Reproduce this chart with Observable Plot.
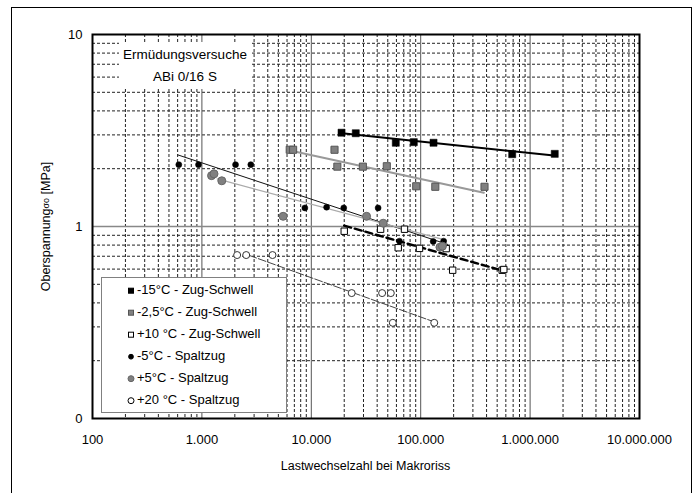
<!DOCTYPE html>
<html>
<head>
<meta charset="utf-8">
<script src="https://cdn.jsdelivr.net/npm/d3@7"></script>
<script src="https://cdn.jsdelivr.net/npm/@observablehq/plot@0.6"></script>
<style>
  body { margin: 0; background: #fff; }
  svg { display: block; }
</style>
</head>
<body>
<div id="chart"></div>
<script>
const FONT = "'Liberation Sans', Arial, Helvetica, sans-serif";

// Axis ticks
const xTicks = [100, 1000, 10000, 100000, 1000000, 10000000];
const yTicks = [0.1, 1, 10];

// Legend labels
const seriesLabels = [
  "-15°C - Zug-Schwell",
  "-2,5°C - Zug-Schwell",
  "+10 °C - Zug-Schwell",
  "-5°C - Spaltzug",
  "+5°C - Spaltzug",
  "+20 °C - Spaltzug"
];

// -15 °C, Zug-Schwell
const cyclesZS15 = [18900, 25500, 59200, 86500, 131000, 686000, 1680000];
const stressZS15 = [3.08, 3.06, 2.73, 2.75, 2.73, 2.38, 2.39];
const fitCyclesZS15 = [19100, 1650000];
const fitStressZS15 = [3.06, 2.34];

// -2,5 °C, Zug-Schwell
const cyclesZS25 = [6350, 6820, 16300, 17300, 29600, 49000, 91000, 136000, 383000];
const stressZS25 = [2.51, 2.51, 2.51, 2.05, 2.05, 2.06, 1.62, 1.61, 1.61];
const fitCyclesZS25 = [6550, 378000];
const fitStressZS25 = [2.48, 1.50];

// +10 °C, Zug-Schwell
const cyclesZS10 = [20000, 43000, 71100, 62300, 97500, 171000, 196000, 556000, 575000];
const stressZS10 = [0.945, 0.968, 0.968, 0.775, 0.769, 0.767, 0.592, 0.592, 0.597];
const fitCyclesZS10 = [20000, 575000];
const fitStressZS10 = [1.01, 0.587];

// -5 °C, Spaltzug
const cyclesSZ5m = [615, 931, 2030, 2800, 8730, 13800, 19800, 40800, 63900, 130000, 162000];
const stressSZ5m = [2.10, 2.10, 2.10, 2.10, 1.25, 1.26, 1.25, 1.25, 0.839, 0.836, 0.839];
const fitCyclesSZ5m = [603, 176000];
const fitStressSZ5m = [2.36, 0.807];

// +5 °C, Spaltzug
const cyclesSZ5p = [1225, 1290, 1520, 5530, 32000, 45400, 150000, 158000];
const stressSZ5p = [1.84, 1.88, 1.73, 1.13, 1.13, 1.04, 0.78, 0.79];
const fitCyclesSZ5p = [1380, 172000];
const fitStressSZ5p = [1.77, 0.846];

// +20 °C, Spaltzug
const cyclesSZ20 = [2100, 2540, 4420, 23400, 44400, 53300, 55600, 133000];
const stressSZ20 = [0.710, 0.710, 0.710, 0.450, 0.450, 0.450, 0.315, 0.315];
const fitCyclesSZ20 = [2690, 132000];
const fitStressSZ20 = [0.708, 0.319];

const rows = (N, S) => N.map((n, i) => ({n, s: S[i]}));

const de = d3.formatLocale({decimal: ",", thousands: ".", grouping: [3], currency: ["", " €"]});
const fmtX = de.format(",");

// minor grid positions (2..9 per decade)
const isDecade = v => Math.abs(Math.log10(v) - Math.round(Math.log10(v))) < 1e-9;
const xMinor = d3.scaleLog().domain([100, 1e7]).ticks().filter(v => !isDecade(v));
const yMinor = d3.scaleLog().domain([0.1, 10]).ticks().filter(v => !isDecade(v));
const xMajor = xTicks.slice(1, -1);
const yMajor = yTicks.slice(1, -1);

const legendStyles = [
  {shape: "square", fill: "#000", stroke: "#000", size: 5},
  {shape: "square", fill: "#808080", stroke: "#555", size: 5},
  {shape: "square", fill: "#fff", stroke: "#000", size: 5},
  {shape: "circle", fill: "#000", stroke: "#000", size: 2.4},
  {shape: "circle", fill: "#808080", stroke: "#666", size: 3},
  {shape: "circle", fill: "#fff", stroke: "#000", size: 3}
];

function decorations() {
  const g = d3.create("svg:g").attr("font-family", FONT).attr("fill", "#000").attr("text-anchor", "start");

  // outer border of the figure
  g.append("rect").attr("x", 11.5).attr("y", 7.5).attr("width", 680).attr("height", 500)
    .attr("fill", "none").attr("stroke", "#000").attr("stroke-width", 1);

  // title box
  g.append("rect").attr("x", 119).attr("y", 42).attr("width", 133).attr("height", 47).attr("fill", "#fff");
  g.append("text").attr("x", 185).attr("y", 55).attr("text-anchor", "middle").attr("dominant-baseline", "middle")
    .attr("font-size", 13.5).text("Ermüdungsversuche");
  g.append("text").attr("x", 185).attr("y", 77).attr("text-anchor", "middle").attr("dominant-baseline", "middle")
    .attr("font-size", 13.5).text("ABi 0/16 S");

  // legend
  g.append("rect").attr("x", 101.5).attr("y", 277.5).attr("width", 185).attr("height", 135)
    .attr("fill", "#fff").attr("stroke", "#808080");
  seriesLabels.forEach((label, i) => {
    const cy = 290.7 + i * 22;
    const st = legendStyles[i];
    if (st.shape === "square") {
      g.append("rect").attr("x", 131 - st.size / 2).attr("y", cy - st.size / 2)
        .attr("width", st.size).attr("height", st.size)
        .attr("fill", st.fill).attr("stroke", st.stroke).attr("stroke-width", 1);
    } else {
      g.append("circle").attr("cx", 131).attr("cy", cy).attr("r", st.size)
        .attr("fill", st.fill).attr("stroke", st.stroke).attr("stroke-width", 1);
    }
    g.append("text").attr("x", 137).attr("y", cy).attr("text-anchor", "start").attr("dominant-baseline", "middle")
      .attr("font-size", 13).text(label);
  });

  // axis titles
  const yt = g.append("text").attr("transform", "translate(47,226.5) rotate(-90)")
    .attr("text-anchor", "middle").attr("dominant-baseline", "middle").attr("font-size", 12.5);
  yt.append("tspan").text("Oberspannung");
  yt.append("tspan").attr("font-size", 9).text("σo");
  yt.append("tspan").text(" [MPa]");

  g.append("text").attr("x", 365.5).attr("y", 467).attr("text-anchor", "middle")
    .attr("dominant-baseline", "middle").attr("font-size", 12.5).text("Lastwechselzahl bei Makroriss");

  return g.node();
}

const lineStyle = (stroke, strokeWidth, dash) => ({x: "n", y: "s", stroke, strokeWidth, strokeDasharray: dash});

const chart = Plot.plot({
  width: 694,
  height: 493,
  marginLeft: 92,
  marginRight: 55,
  marginTop: 34,
  marginBottom: 75,
  style: {fontFamily: FONT, fontSize: "13px", background: "#fff", color: "#000"},
  x: {type: "log", domain: [100, 1e7], axis: null},
  y: {type: "log", domain: [0.1, 10], axis: null},
  marks: [
    // grid
    Plot.ruleX(xMinor, {stroke: "#222", strokeWidth: 1, strokeDasharray: "3,2"}),
    Plot.ruleY(yMinor, {stroke: "#222", strokeWidth: 1, strokeDasharray: "3,2"}),
    Plot.ruleX(xMajor, {stroke: "#555", strokeWidth: 1}),
    Plot.ruleY(yMajor, {stroke: "#888", strokeWidth: 1.6}),

    // axes
    Plot.axisX({ticks: xTicks, tickFormat: fmtX, tickSize: 0, tickPadding: 16, label: null, fontSize: 13}),
    Plot.axisY({ticks: yTicks, tickFormat: d => d < 1 ? "0" : String(d), tickSize: 0, tickPadding: 10, label: null, fontSize: 13}),

    // fitted lines
    Plot.line(rows(fitCyclesZS15, fitStressZS15), lineStyle("#000", 2)),
    Plot.line(rows(fitCyclesZS25, fitStressZS25), lineStyle("#999", 2)),
    Plot.line(rows(fitCyclesSZ5m, fitStressSZ5m), lineStyle("#111", 1)),
    Plot.line(rows(fitCyclesSZ5p, fitStressSZ5p), lineStyle("#aaa", 1.2)),
    Plot.line(rows(fitCyclesZS10, fitStressZS10), lineStyle("#000", 2.5, "7,4")),
    Plot.line(rows(fitCyclesSZ20, fitStressSZ20), lineStyle("#444", 1, "8,2")),

    // measurements
    Plot.dot(rows(cyclesZS15, stressZS15), {x: "n", y: "s", symbol: "square", r: 4, fill: "#000", stroke: "#000", strokeWidth: 0.5}),
    Plot.dot(rows(cyclesZS25, stressZS25), {x: "n", y: "s", symbol: "square", r: 4, fill: "#808080", stroke: "#555", strokeWidth: 1}),
    Plot.dot(rows(cyclesZS10, stressZS10), {x: "n", y: "s", symbol: "square", r: 3.6, fill: "#fff", stroke: "#000", strokeWidth: 1}),
    Plot.dot(rows(cyclesSZ5m, stressSZ5m), {x: "n", y: "s", r: 3, fill: "#000", stroke: "#000", strokeWidth: 0.5}),
    Plot.dot(rows(cyclesSZ5p, stressSZ5p), {x: "n", y: "s", r: 4, fill: "#808080", stroke: "#666", strokeWidth: 1}),
    Plot.dot(rows(cyclesSZ20, stressSZ20), {x: "n", y: "s", r: 3.5, fill: "#fff", stroke: "#333", strokeWidth: 1}),

    Plot.frame({stroke: "#000", strokeWidth: 2}),
    decorations
  ]
});

document.getElementById("chart").appendChild(chart);
</script>
</body>
</html>
